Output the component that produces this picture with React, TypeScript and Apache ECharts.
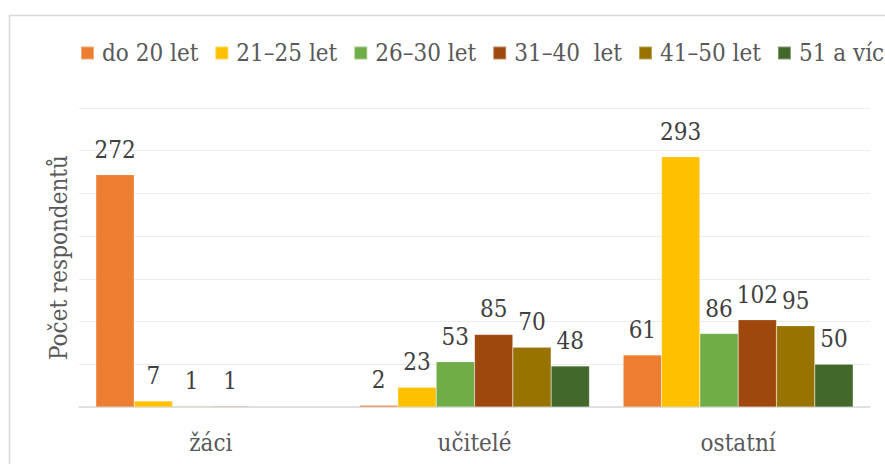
import React, { useEffect, useRef } from "react";
import * as echarts from "echarts";

const categories = ["žáci", "učitelé", "ostatní"];
const seriesNames = ["do 20 let", "21–25 let", "26–30 let", "31–40  let", "41–50 let", "51 a více"];
const do20 = [272, 2, 61];
const s21_25 = [7, 23, 293];
const s26_30 = [1, 53, 86];
const s31_40 = [1, 85, 102];
const s41_50 = [null, 70, 95];
const s51 = [null, 48, 50];
const seriesValues = [do20, s21_25, s26_30, s31_40, s41_50, s51];
const colors = ["#ED7D31", "#FFC000", "#70AD47", "#9E480E", "#997300", "#43682B"];
const yAxisName = "Počet respondentů";

const FONT = "DejaVu Serif Condensed, DejaVu Serif";

export default function App() {
  const ref = useRef<HTMLDivElement>(null);
  useEffect(() => {
    if (!ref.current) return;
    const chart = echarts.init(ref.current, null, { renderer: "svg" });
    chart.setOption({
      animation: false,
      backgroundColor: "#ffffff",
      textStyle: { fontFamily: FONT },
      graphic: [
        {
          type: "rect",
          shape: { x: 9.5, y: 15.5, width: 900, height: 480 },
          style: { fill: "none", stroke: "#d9d9d9", lineWidth: 1.5 },
          silent: true,
          z: -1,
        },
      ],
      legend: {
        left: 75,
        top: 34,
        width: 1200,
        itemWidth: 13,
        itemHeight: 13,
        itemGap: 16,
        icon: "rect",
        data: seriesNames,
        textStyle: {
          fontFamily: FONT,
          fontSize: 24,
          color: "#595959",
          padding: [0, 0, 0, 3],
          lineHeight: 28,
        },
      },
      grid: { left: 79, right: 15, top: 108, bottom: 57 },
      xAxis: {
        type: "category",
        data: categories,
        axisLine: { lineStyle: { color: "#d9d9d9", width: 1.5 } },
        axisTick: { show: false },
        axisLabel: {
          fontFamily: FONT,
          fontSize: 24,
          color: "#595959",
          margin: 22,
          lineHeight: 28,
        },
      },
      yAxis: {
        type: "value",
        min: 0,
        max: 350,
        interval: 50,
        name: yAxisName,
        nameLocation: "middle",
        nameGap: 8,
        nameTextStyle: { fontFamily: FONT, fontSize: 24, color: "#595959" },
        axisLabel: { show: false },
        axisLine: { show: false },
        axisTick: { show: false },
        splitLine: { lineStyle: { color: "#ededed", width: 1.2 } },
      },
      series: seriesNames.map((name, i) => ({
        name,
        type: "bar",
        data: seriesValues[i],
        barGap: "0%",
        barCategoryGap: "12.8%",
        itemStyle: { color: colors[i], borderColor: "rgba(255,255,255,0.35)", borderWidth: 0.5 },
        label: {
          show: true,
          position: "top",
          distance: 11,
          fontFamily: FONT,
          fontSize: 24,
          color: "#404040",
          lineHeight: 28,
        },
      })),
    });
    return () => chart.dispose();
  }, []);
  return (
    <div
      ref={ref}
      style={{ position: "absolute", left: 0, top: 0, width: 885, height: 464 }}
    />
  );
}
